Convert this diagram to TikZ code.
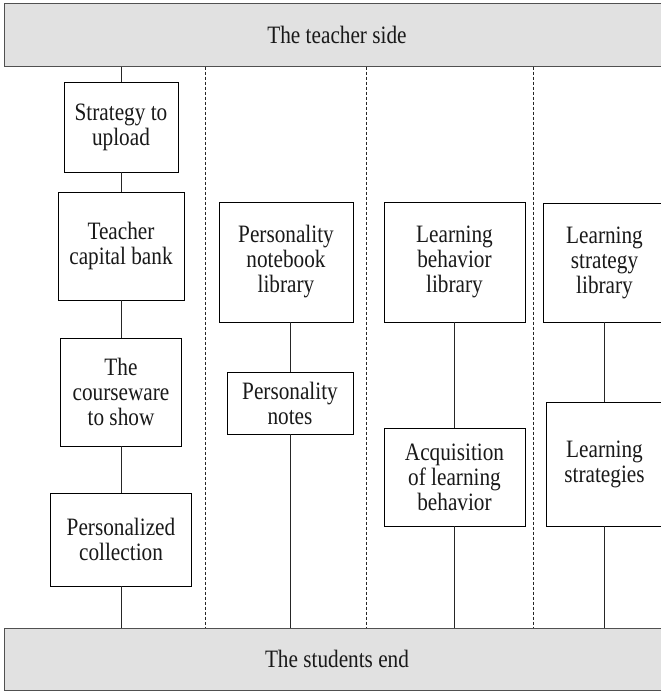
\documentclass[tikz,border=0pt]{standalone}
\usepackage{fontspec}
\setmainfont{Liberation Serif}[FakeStretch=0.85]
\definecolor{barfill}{HTML}{E1E1E1}
\definecolor{barline}{HTML}{505050}
\begin{document}
\begin{tikzpicture}[x=1pt,y=-1pt,
  txt/.style={font=\fontsize{25}{25}\selectfont, text=black!90},
  box/.style={txt, draw=black, line width=0.8pt, align=center, inner sep=0pt, fill=white},
  bar/.style={txt, draw=barline, line width=1pt, fill=barfill, inner sep=0pt},
  link/.style={draw=black!85, line width=0.8pt},
  sep/.style={draw=black!85, line width=0.7pt, dash pattern=on 3pt off 2pt}]
\useasboundingbox (0,0) rectangle (661,691);
\clip (0,0) rectangle (661,691);
% bars
\node[bar, minimum width=666pt, minimum height=63pt] (top) at (337,34.5) {The teacher side};
\node[bar, minimum width=666pt, minimum height=62pt] (bot) at (337,659) {The students end};
% separators
\coordinate (d1) at (205,0);
\coordinate (d2) at (366,0);
\coordinate (d3) at (533,0);
\draw[sep] (top.south -| d1) -- (bot.north -| d1);
\draw[sep] (top.south -| d2) -- (bot.north -| d2);
\draw[sep] (top.south -| d3) -- (bot.north -| d3);
% left column
\node[box, minimum width=114pt, minimum height=90pt] (s1) at (121,127) {Strategy to\\upload};
\node[box, minimum width=126pt, minimum height=108pt] (s2) at (121,246) {Teacher\\capital bank};
\node[box, minimum width=121pt, minimum height=108pt] (s3) at (121,392) {The\\courseware\\to show};
\node[box, minimum width=141pt, minimum height=93pt] (s4) at (121,539.5) {Personalized\\collection};
\draw[link] (s1.north) -- (s1.north |- top.south);
\draw[link] (s1.south) -- (s2.north);
\draw[link] (s2.south) -- (s3.north);
\draw[link] (s3.south) -- (s4.north);
\draw[link] (s4.south) -- (s4.south |- bot.north);
% personality column
\node[box, minimum width=134pt, minimum height=120pt] (p1) at (286,262) {Personality\\notebook\\library};
\node[box, minimum width=126pt, minimum height=62pt] (p2) at (290,403) {Personality\\notes};
\draw[link] (p2.north) -- (p2.north |- p1.south);
\draw[link] (p2.south) -- (p2.south |- bot.north);
% behavior column
\node[box, minimum width=141pt, minimum height=120pt] (b1) at (454.5,262) {Learning\\behavior\\library};
\node[box, minimum width=141pt, minimum height=98pt] (b2) at (454.5,477) {Acquisition\\of learning\\behavior};
\draw[link] (b1.south) -- (b2.north);
\draw[link] (b2.south) -- (b2.south |- bot.north);
% strategy column
\node[box, minimum width=123pt, minimum height=119pt] (l1) at (604.5,262.5) {Learning\\strategy\\library};
\node[box, minimum width=117pt, minimum height=124pt] (l2) at (604.5,464) {Learning\\strategies};
\draw[link] (l1.south) -- (l2.north);
\draw[link] (l2.south) -- (l2.south |- bot.north);
\end{tikzpicture}
\end{document}
